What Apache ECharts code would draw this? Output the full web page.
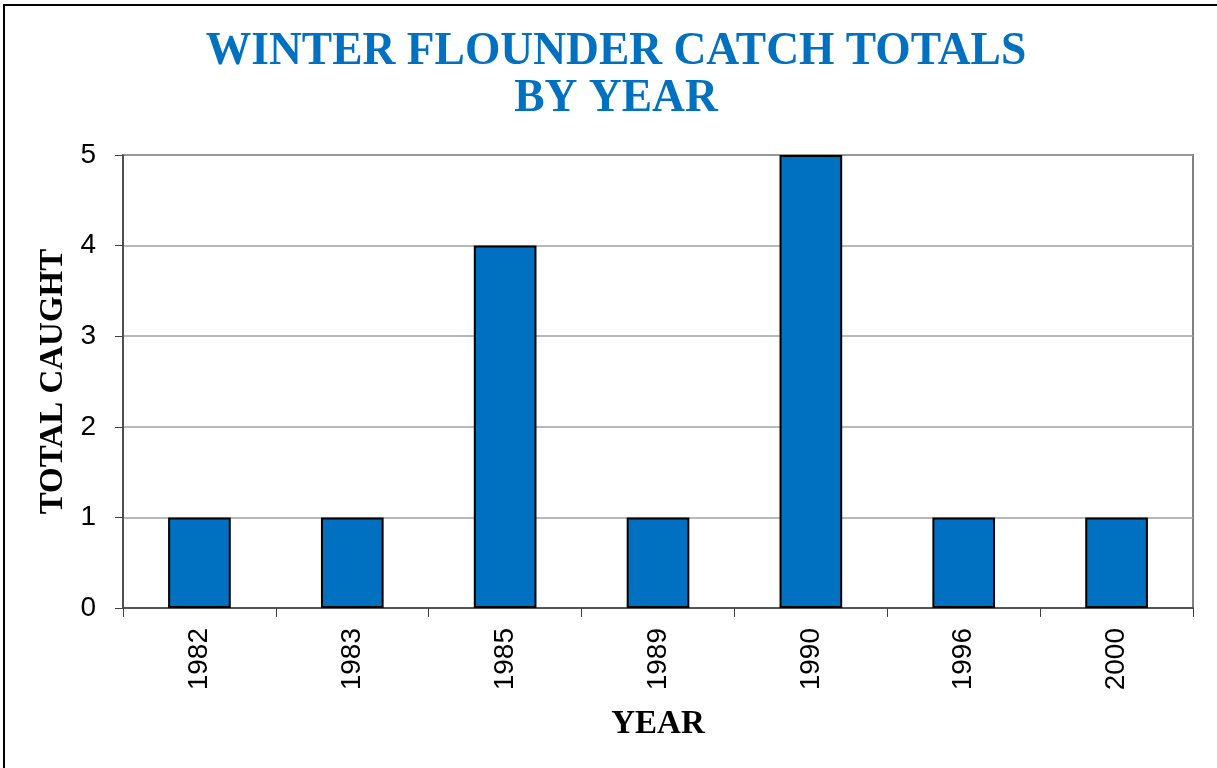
<!DOCTYPE html>
<html>
<head>
<meta charset="utf-8">
<script src="https://cdn.jsdelivr.net/npm/echarts@6/dist/echarts.min.js"></script>
<style>
html,body{margin:0;padding:0;background:#fff;}
#frame{position:absolute;left:3px;top:4px;width:1214px;height:764px;border-top:2px solid #000;border-left:2px solid #000;box-sizing:border-box;}
#chart{position:absolute;left:0;top:0;width:1217px;height:768px;}
</style>
</head>
<body>
<div id="frame"></div>
<div id="chart"></div>
<script>
const titleText = 'WINTER FLOUNDER CATCH TOTALS\nBY YEAR';
const years = ['1982','1983','1985','1989','1990','1996','2000'];
const totals = [1, 1, 4, 1, 5, 1, 1];
const yTicks = [0, 1, 2, 3, 4, 5];

const chart = echarts.init(document.getElementById('chart'), null, {renderer:'canvas'});
chart.setOption({
  backgroundColor: 'transparent',
  animation: false,
  title: {
    text: titleText,
    left: 611, top: 24, textAlign: 'center',
    textStyle: {fontFamily: 'Liberation Serif', fontWeight: 'bold', fontSize: 45.5, color: '#0070C0', lineHeight: 47}
  },
  grid: {left: 123, right: 24, top: 155, bottom: 160, show: true, borderColor: '#808080', borderWidth: 2},
  xAxis: {
    type: 'category', data: years,
    name: 'YEAR', nameLocation: 'middle', nameGap: 100,
    nameTextStyle: {fontFamily: 'Liberation Serif', fontWeight: 'bold', fontSize: 33, color: '#000'},
    axisLine: {lineStyle: {color: '#404040', width: 1.5}},
    axisTick: {show: true, alignWithLabel: false, length: 9, lineStyle: {color: '#404040'}},
    axisLabel: {rotate: 90, fontFamily: 'Liberation Sans', fontSize: 28, color: '#000', margin: 20}
  },
  yAxis: {
    type: 'value', min: yTicks[0], max: yTicks[yTicks.length-1], interval: 1,
    name: 'TOTAL CAUGHT', nameLocation: 'middle', nameGap: 50,
    nameTextStyle: {fontFamily: 'Liberation Serif', fontWeight: 'bold', fontSize: 33, color: '#000'},
    axisLine: {show: true, lineStyle: {color: '#404040', width: 1.5}},
    axisTick: {show: true, length: 8, lineStyle: {color: '#404040'}},
    axisLabel: {fontFamily: 'Liberation Sans', fontSize: 28, color: '#000', margin: 27},
    splitLine: {lineStyle: {color: '#a0a0a0', width: 1.5}}
  },
  series: [{
    type: 'bar', data: totals, barWidth: '41%',
    itemStyle: {color: '#0070C0', borderColor: '#000', borderWidth: 2}
  }]
});
</script>
</body>
</html>
